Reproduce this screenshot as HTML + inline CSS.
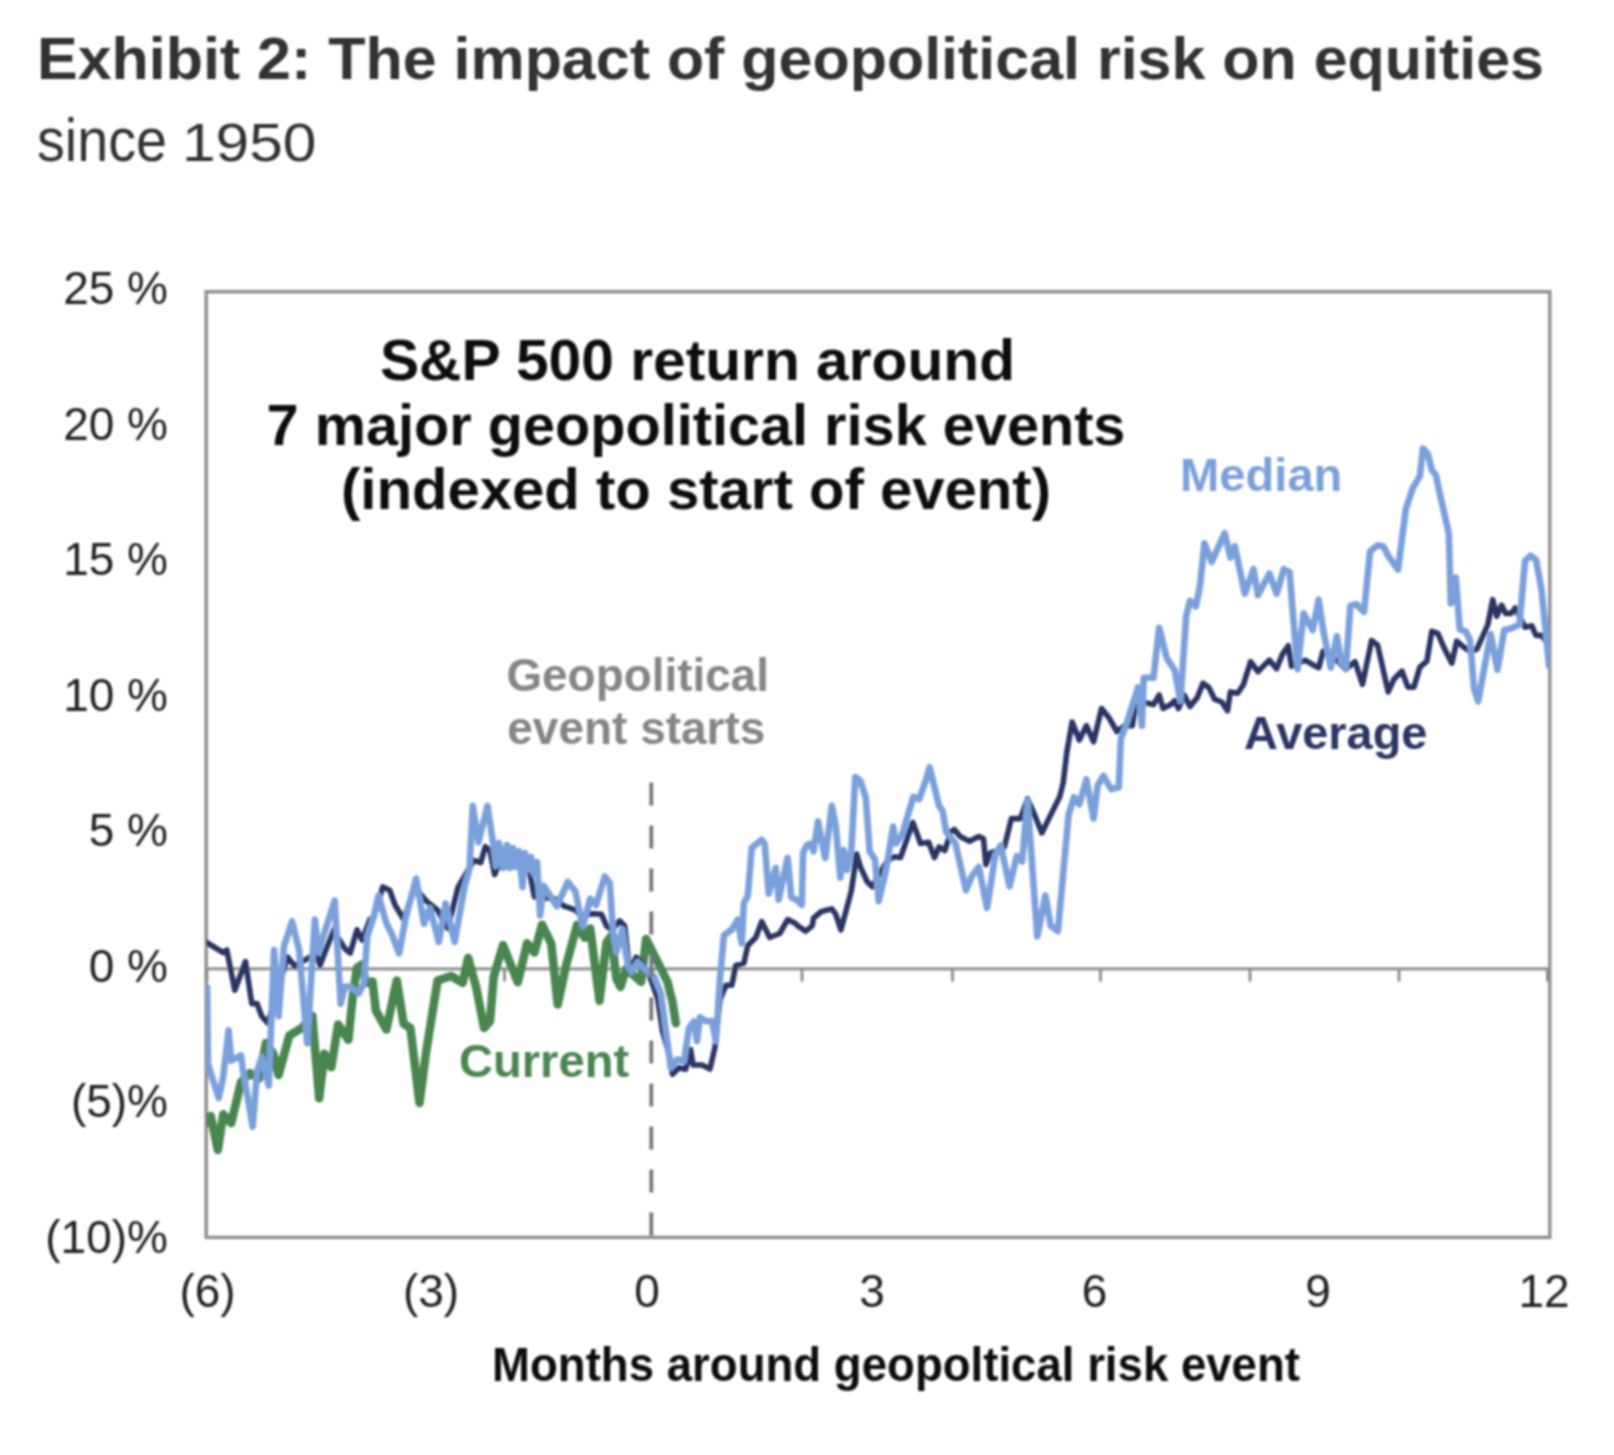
<!DOCTYPE html>
<html><head><meta charset="utf-8"><style>
html,body{margin:0;padding:0;background:#fff;width:1614px;height:1455px;overflow:hidden}
svg{display:block}
</style></head><body>
<svg width="1614" height="1455" viewBox="0 0 1614 1455">
<defs><clipPath id="plot"><rect x="206.5" y="292" width="1343" height="945"/></clipPath><filter id="soft" filterUnits="userSpaceOnUse" x="0" y="0" width="1614" height="1455"><feGaussianBlur stdDeviation="1"/></filter></defs>
<rect width="1614" height="1455" fill="#fff"/>
<g filter="url(#soft)">
<g font-family="'Liberation Sans', Arial, sans-serif" fill="#333333">
<text x="37" y="79" font-size="59" font-weight="bold" textLength="1507" lengthAdjust="spacingAndGlyphs">Exhibit 2: The impact of geopolitical risk on equities</text>
<text x="37" y="160.5" font-size="61" textLength="130" lengthAdjust="spacingAndGlyphs">since</text><text x="182" y="160.5" font-size="54" textLength="134.4" lengthAdjust="spacingAndGlyphs">1950</text>
</g>
<g fill="none" stroke="#8e8e8e">
<rect x="206.2" y="291.7" width="1343.6" height="945.7" stroke-width="3.4"/>
<line x1="206" y1="968.8" x2="1550" y2="968.8" stroke="#959595" stroke-width="3.2"/>
<g stroke="#8a8a8a" stroke-width="2.8"><line x1="207" y1="969" x2="207" y2="981.5"/><line x1="356" y1="969" x2="356" y2="981.5"/><line x1="504.5" y1="969" x2="504.5" y2="981.5"/><line x1="653" y1="969" x2="653" y2="981.5"/><line x1="802" y1="969" x2="802" y2="981.5"/><line x1="952.5" y1="969" x2="952.5" y2="981.5"/><line x1="1100.5" y1="969" x2="1100.5" y2="981.5"/><line x1="1250" y1="969" x2="1250" y2="981.5"/><line x1="1399" y1="969" x2="1399" y2="981.5"/><line x1="1547.5" y1="969" x2="1547.5" y2="981.5"/></g>
</g>
<g fill="none" stroke-linejoin="round" stroke-linecap="round" clip-path="url(#plot)">
<polyline points="205.4,1123.2 210.7,1116.0 217.9,1150.0 223.2,1114.3 231.2,1123.2 241.0,1082.1 250.0,1073.2 258.9,1078.6 266.0,1042.9 273.2,1053.3 278.6,1075.0 289.3,1035.7 302.0,1027.8 312.3,1015.8 319.2,1098.3 324.4,1053.6 331.3,1067.3 338.1,1024.4 348.4,1039.8 352.7,996.9 357.0,967.7 362.2,964.2 365.6,983.1 372.5,981.4 375.9,1010.6 386.3,1029.5 390.0,1012.3 396.8,980.5 403.6,1023.6 410.4,1028.1 419.5,1103.0 426.3,1050.8 437.6,980.5 451.2,976.0 462.6,982.8 468.2,957.8 476.2,987.3 484.1,1028.1 490.0,1021.2 493.7,976.7 503.0,945.1 517.8,982.2 527.1,943.3 534.5,952.5 542.0,924.7 551.2,943.3 557.7,1004.5 566.1,965.5 577.2,924.7 584.6,937.7 590.2,928.4 599.5,1000.8 606.5,942.3 611.4,935.8 616.4,978.6 620.5,986.9 626.3,968.7 641.1,981.9 646.1,939.0 652.7,952.2 660.9,968.7 667.5,981.9 672.5,1001.7 675.8,1023.2" stroke="#4a8550" stroke-width="8.5"/>
<polyline points="205.8,942.0 223.2,952.7 226.8,950.0 234.8,990.2 245.5,961.6 251.8,1003.6 257.1,1003.6 261.6,1016.0 267.9,1023.2 287.5,957.0 294.6,966.0 305.0,960.0 315.8,953.9 320.1,965.1 327.0,947.0 334.7,928.1 337.3,936.7 345.0,948.8 350.2,953.0 357.0,929.8 362.2,940.2 369.9,919.5 372.5,921.3 382.8,886.9 389.7,890.3 395.0,905.0 403.6,919.3 415.0,887.5 426.3,901.1 437.6,910.2 447.8,928.4 458.0,887.5 467.1,871.7 473.9,860.3 480.7,862.6 485.3,846.7 490.0,850.5 494.6,874.6 499.3,863.5 504.8,867.2 514.1,857.9 529.0,869.0 534.5,896.9 554.9,898.7 564.2,906.2 575.3,909.9 582.8,917.3 590.2,913.6 601.5,914.3 606.5,925.9 612.0,930.0 619.7,920.9 624.6,925.9 629.6,972.0 636.2,957.2 641.1,962.1 649.4,975.3 657.6,998.4 662.6,1031.4 669.2,1054.5 672.5,1074.3 679.0,1067.7 685.6,1069.3 690.6,1049.5 693.0,1065.0 702.0,1065.0 710.0,1069.0 715.0,1047.0 720.0,999.3 725.9,985.3 731.8,985.3 735.8,965.4 743.8,963.4 747.8,945.5 755.8,937.5 761.7,921.6 769.7,937.5 779.7,933.5 787.6,919.6 795.6,923.6 797.8,925.9 805.7,931.1 812.2,925.9 813.5,918.1 821.4,911.5 831.8,908.9 835.7,914.1 840.9,929.8 846.2,910.2 851.4,890.6 856.6,854.1 860.5,867.1 867.1,881.5 872.3,886.7 878.8,875.0 884.1,865.8 889.3,859.3 894.5,856.7 900.5,857.5 912.8,822.5 918.1,836.5 920.4,843.5 928.6,842.3 934.4,857.5 939.1,847.0 944.9,850.5 950.8,831.8 954.3,829.5 960.1,836.5 969.5,841.2 978.8,836.5 983.5,838.8 985.9,864.6 990.5,852.9 997.1,850.7 1004.3,847.1 1011.4,818.6 1020.4,818.6 1027.5,798.9 1034.6,815.0 1041.8,832.9 1048.9,818.6 1059.6,797.1 1063.2,782.9 1066.8,752.5 1072.1,722.1 1079.3,740.0 1086.4,725.7 1093.6,741.8 1101.5,708.5 1109.2,718.1 1116.9,731.5 1124.6,725.8 1132.3,725.8 1136.2,700.8 1145.8,702.7 1153.5,704.6 1159.2,695.0 1163.1,708.5 1170.8,704.6 1174.6,700.8 1178.5,708.5 1184.2,695.0 1190.0,706.5 1197.2,697.7 1203.0,683.2 1208.8,687.6 1214.5,699.1 1221.8,702.0 1227.5,710.7 1230.4,691.9 1237.6,693.3 1243.4,684.7 1250.6,661.6 1257.9,671.7 1263.6,665.9 1269.4,660.1 1276.6,668.8 1282.4,654.4 1288.2,645.7 1291.5,666.2 1305.1,660.2 1312.7,664.7 1318.7,667.7 1323.2,651.1 1338.4,661.7 1345.9,669.2 1355.0,661.7 1362.5,684.3 1371.6,640.5 1377.6,645.1 1388.2,691.9 1394.0,679.1 1402.0,671.1 1407.9,687.1 1413.9,687.1 1419.9,667.1 1426.9,661.2 1431.8,631.3 1437.8,633.3 1443.8,647.2 1451.8,663.2 1456.8,641.2 1463.7,647.2 1469.7,651.2 1476.9,649.2 1482.4,636.8 1487.9,624.4 1492.7,599.7 1496.8,616.2 1501.6,605.2 1505.7,613.4 1511.2,613.4 1515.3,607.9 1525.0,627.2 1531.8,625.8 1536.0,635.4 1541.4,635.4 1547.0,642.3" stroke="#2c3563" stroke-width="5.6"/>
<polyline points="207.1,987.5 208.0,1064.3 218.8,1098.2 223.2,1076.8 228.6,1030.4 231.2,1060.7 241.0,1055.4 242.9,1069.6 252.7,1126.8 257.1,1071.4 261.6,1057.0 268.8,1085.7 274.1,950.0 278.6,1016.0 283.9,946.4 292.0,921.4 299.1,950.0 307.2,1043.3 314.9,919.5 318.4,952.2 334.7,900.6 340.7,1003.8 345.0,986.6 350.2,986.6 358.8,993.4 363.9,983.1 367.3,936.7 374.2,914.4 378.5,895.5 386.3,923.0 391.4,933.3 399.1,953.3 405.9,917.0 416.1,878.5 424.0,923.8 430.0,908.0 438.8,942.0 445.6,903.4 454.6,942.0 464.8,885.3 469.4,869.4 472.8,805.9 478.5,842.2 487.5,805.9 492.8,841.2 496.0,866.0 499.0,843.0 503.0,868.0 507.0,845.0 510.0,868.0 513.0,848.0 516.0,867.0 519.0,851.0 522.5,887.0 525.0,853.0 528.0,870.0 531.0,857.0 534.0,874.0 537.0,862.0 540.1,915.4 543.8,885.8 556.8,906.2 567.9,882.0 575.3,891.3 582.8,926.6 590.2,898.7 596.0,905.0 604.8,876.4 609.8,883.0 613.1,932.5 616.4,952.2 622.2,929.2 627.9,965.4 631.2,972.0 637.8,962.1 646.1,970.4 654.3,977.0 660.9,993.5 665.9,1031.4 670.8,1067.7 677.4,1059.4 684.0,1061.1 689.0,1028.1 693.9,1021.5 697.0,1041.1 700.0,1017.2 706.0,1021.2 712.0,1021.0 715.9,1041.1 719.9,979.4 723.9,935.5 731.8,929.5 737.8,919.6 741.8,943.5 743.8,903.6 747.8,895.7 751.8,847.8 761.7,839.9 764.7,843.8 768.7,893.7 775.7,867.8 778.7,899.6 787.6,857.8 791.3,897.2 796.5,899.8 801.8,905.0 803.1,852.7 807.0,844.9 810.9,843.6 813.5,851.4 818.1,821.4 821.4,839.7 825.3,858.0 831.8,805.7 835.7,825.3 840.3,877.6 843.6,850.1 847.0,870.0 851.4,850.1 855.3,777.0 860.5,780.9 865.8,797.9 869.7,851.4 874.9,859.3 878.8,901.1 886.0,870.0 893.2,826.6 895.8,843.5 902.0,835.0 913.4,796.8 919.2,799.1 925.1,782.7 929.7,767.5 939.1,806.1 942.6,810.8 946.1,831.8 955.5,843.5 966.0,890.3 971.8,876.2 978.8,866.9 987.0,907.8 991.7,878.6 995.2,855.2 1000.7,845.4 1009.6,886.4 1016.8,856.1 1022.1,861.4 1027.5,800.7 1037.3,936.4 1045.4,895.4 1050.7,925.7 1057.9,931.1 1068.6,815.0 1073.9,797.1 1079.3,804.3 1086.4,779.3 1093.6,818.6 1097.7,785.4 1103.5,775.8 1111.2,789.2 1118.8,787.3 1120.8,739.2 1126.5,723.8 1138.1,687.3 1141.9,725.8 1143.8,677.7 1153.5,677.7 1159.2,627.7 1166.9,658.5 1174.6,670.0 1180.4,700.8 1186.2,616.2 1190.0,600.8 1195.8,606.5 1200.1,585.1 1204.4,543.2 1211.7,562.0 1224.6,533.1 1230.4,557.6 1234.8,546.1 1244.9,593.7 1253.5,569.2 1257.9,595.2 1269.4,573.5 1276.6,593.7 1283.8,569.2 1289.6,572.1 1293.9,625.5 1297.6,669.2 1303.6,613.3 1312.7,630.0 1318.7,599.7 1323.2,630.0 1330.8,667.7 1336.8,636.0 1341.4,663.2 1345.9,667.7 1350.4,605.8 1356.5,604.3 1364.0,611.8 1370.1,551.4 1377.6,545.3 1383.7,546.8 1388.2,555.9 1398.0,569.5 1405.9,508.7 1412.9,487.8 1419.9,475.8 1422.9,448.5 1427.8,453.9 1431.8,469.9 1435.8,474.8 1439.8,493.8 1445.8,519.7 1448.8,533.6 1450.8,603.4 1455.8,577.5 1459.7,629.3 1465.7,631.3 1470.0,640.0 1474.1,689.0 1478.2,701.4 1483.7,671.1 1490.6,634.0 1497.5,669.8 1504.3,629.9 1511.2,628.5 1519.5,624.4 1525.0,561.2 1530.5,555.7 1536.0,559.8 1541.4,588.7 1545.6,629.9 1549.0,665.6" stroke="#7aa0dc" stroke-width="6.6"/>
</g>
<g fill="none"><line x1="651.3" y1="782.4" x2="651.3" y2="1237" stroke="#76767e" stroke-width="3.8" stroke-dasharray="23,20"/></g>
<g font-family="'Liberation Sans', Arial, sans-serif" font-size="46" fill="#222">
<text x="168" y="304.2" text-anchor="end">25 %</text><text x="168" y="439.7" text-anchor="end">20 %</text><text x="168" y="575.2" text-anchor="end">15 %</text><text x="168" y="710.7" text-anchor="end">10 %</text><text x="168" y="846.2" text-anchor="end">5 %</text><text x="168" y="981.7" text-anchor="end">0 %</text><text x="168" y="1117.2" text-anchor="end">(5)%</text><text x="168" y="1252.7" text-anchor="end">(10)%</text>
<text x="207.5" y="1306.6" text-anchor="middle">(6)</text><text x="431" y="1306.6" text-anchor="middle">(3)</text><text x="647" y="1306.6" text-anchor="middle">0</text><text x="872" y="1306.6" text-anchor="middle">3</text><text x="1094.5" y="1306.6" text-anchor="middle">6</text><text x="1318" y="1306.6" text-anchor="middle">9</text><text x="1544" y="1306.6" text-anchor="middle">12</text>
</g>
<g font-family="'Liberation Sans', Arial, sans-serif" font-weight="bold">
<text x="697.5" y="380" font-size="57.5" text-anchor="middle" fill="#111" textLength="635.1" lengthAdjust="spacingAndGlyphs">S&amp;P 500 return around</text>
<text x="696" y="445" font-size="57.5" text-anchor="middle" fill="#111" textLength="858.9" lengthAdjust="spacingAndGlyphs">7 major geopolitical risk events</text>
<text x="696" y="509" font-size="57.5" text-anchor="middle" fill="#111" textLength="710.1" lengthAdjust="spacingAndGlyphs">(indexed to start of event)</text>
<text x="896" y="1380.5" font-size="48.5" text-anchor="middle" fill="#111" textLength="808" lengthAdjust="spacingAndGlyphs">Months around geopoltical risk event</text>
<text x="506.4" y="690.5" font-size="46" fill="#858585" textLength="262.6" lengthAdjust="spacingAndGlyphs">Geopolitical</text>
<text x="507.3" y="744.4" font-size="46" fill="#858585" textLength="258.1" lengthAdjust="spacingAndGlyphs">event starts</text>
<text x="1180.1" y="490.7" font-size="46" fill="#7aa0dc" textLength="162.3" lengthAdjust="spacingAndGlyphs">Median</text>
<text x="1244.1" y="748.6" font-size="46" fill="#2c3563" textLength="183.3" lengthAdjust="spacingAndGlyphs">Average</text>
<text x="459" y="1076.5" font-size="46" fill="#4a8550" textLength="170.1" lengthAdjust="spacingAndGlyphs">Current</text>
</g>
</g>
</svg>
</body></html>
